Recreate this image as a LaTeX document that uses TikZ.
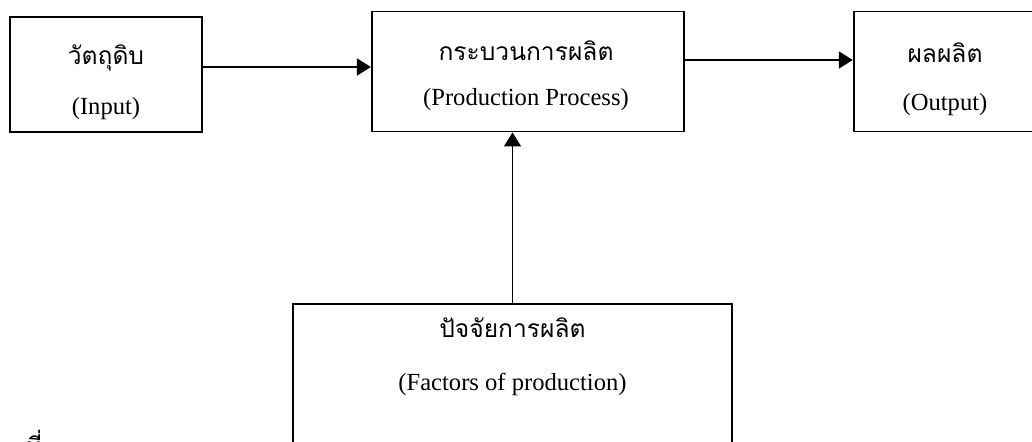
\documentclass[tikz,border=0pt]{standalone}
\usepackage{fontspec}
\setmainfont{Liberation Serif}
\newfontfamily\thaifont[Script=Thai]{Loma}
\usetikzlibrary{arrows.meta, positioning}

\begin{document}
\begin{tikzpicture}[x=0.02cm, y=-0.02cm,
        font=\fontsize{14}{17}\selectfont,
        box/.style    = {draw, rectangle, line width=1.1pt, minimum height=2.4cm},
        caption/.style = {align=center},
        flow/.style   = {-{Triangle[length=0.28cm, width=0.34cm]}, line width=1pt},
        node distance = 3.36cm]
    \useasboundingbox (0,0) rectangle (1032,441);

    % the top row, left to right
    \node[box, minimum width=3.84cm, minimum height=2.3cm] (input) at (106,74.5) {};
    \node[box, minimum width=6.24cm, right=of input, yshift=0.06cm] (process) {};
    \node[box, minimum width=3.8cm, right=of process] (output) {};

    % the factors box, its bottom runs off the page
    \node[box, minimum width=8.78cm, minimum height=4cm, anchor=north] (factor) at (512.5,303) {};

    % texts of the boxes
    \node[caption] (inputlabel) at (106,82) {{\thaifont วัตถุดิบ} \\[0.4cm] (Input)};
    \node[caption] (processlabel) at (526,75.5) {{\thaifont กระบวนการผลิต} \\[0.3cm] (Production Process)};
    \node[caption] (outputlabel) at (945,79) {{\thaifont ผลผลิต} \\[0.36cm] (Output)};
    \node[caption] (factorlabel) at (512.5,356.5) {{\thaifont ปัจจัยการผลิต} \\[0.46cm] (Factors of production)};

    \node[anchor=base west] (note) at (20,455) {\thaifont ที่};

    % arrows between the boxes
    \draw[flow] ([yshift=0.15cm]input.east) -- ([yshift=0.15cm]input.east -| process.west);
    \draw[flow] ([yshift=0.23cm]process.east) -- ([yshift=0.23cm]process.east -| output.west);
    \draw[flow] (factor.north) -- (factor.north |- process.south);

\end{tikzpicture}
\end{document}
